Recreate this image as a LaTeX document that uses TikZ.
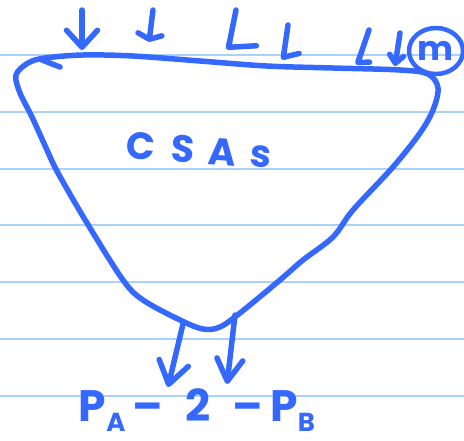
\documentclass[tikz,border=0pt]{standalone}
\usepackage{fontspec}
\setmainfont{Poppins}
\usetikzlibrary{arrows.meta, shapes.geometric}
\definecolor{ink}{RGB}{52,104,255}
\definecolor{ruling}{RGB}{170,210,247}
\newcommand{\lowidx}[1]{\raisebox{-10pt}{\fontsize{26}{26}\selectfont #1}}

\begin{document}
\begin{tikzpicture}[x=1pt, y=-1pt,
                pen/.style={draw=ink, line width=5.5pt, line cap=round, line join=round},
                ruled/.style={draw=ruling, line width=2pt},
                vtip/.style 2 args={pen, -{Straight Barb[round, length=#1, width=#2]}},
                foot/.style 2 args={pen, -{Straight Barb[round, left, length=#1, width=#2]}},
                inktext/.style={text=ink, inner sep=0pt}]
                \useasboundingbox (0,0) rectangle (464,440);
                \foreach \k in {0,...,6}
                    \draw[ruled] (0,55+56.8*\k) -- (464,55+56.8*\k);
                \draw[pen] plot[smooth cycle, tension=0.55] coordinates {
                    (16,75) (28,63) (45,58) (83,55) (133,56) (200,61) (267,66) (333,68)
                    (400,70) (428,74) (438,88) (433,110) (420,133) (393,167) (353,210)
                    (333,237) (303,260) (280,280) (240,313) (220,327) (203,329) (180,320)
                    (143,300) (123,280) (87,223) (58,173) (47,150) (32,117) (20,93)};
                \draw[pen] (42,60) -- (60,67);
                \node[pen, ellipse, minimum width=54pt, minimum height=46pt, inner sep=0pt,
                    line width=4.5pt, text=ink, font=\fontsize{34}{34}\selectfont\bfseries] (m) at (436,51) {m};
                \node[inktext, rotate=-4, font=\fontsize{38}{38}\selectfont\bfseries] (csas) at (199,150)
                    {C\kern16pt S\kern14pt A\kern14pt s};
                \node[inktext, font=\fontsize{44}{44}\selectfont\bfseries] (price) at (197,410)
                    {P\lowidx{A}\,–\enspace 2\enspace –\,P\lowidx{B}};
                \coordinate (t1) at (82,10);  \coordinate (h1) at (82,50);
                \coordinate (t2) at (153,10); \coordinate (h2) at (149,42);
                \coordinate (t3) at (236,10); \coordinate (h3) at (228,50);
                \coordinate (t4) at (288,25); \coordinate (h4) at (283,60);
                \coordinate (t5) at (369,30); \coordinate (h5) at (357,65);
                \coordinate (t6) at (400,33); \coordinate (h6) at (395,66);
                \coordinate (s1) at (183,324); \coordinate (e1) at (168,387);
                \coordinate (s2) at (235,315); \coordinate (e2) at (227,384);
                \draw[vtip={17pt}{31pt}] (t1) -- (h1);
                \draw[vtip={5pt}{24pt}] (t2) -- (h2);
                \draw[foot={7pt}{54pt}] (t3) -- (h3);
                \draw[foot={6pt}{30pt}] (t4) -- (h4);
                \draw[foot={4pt}{22pt}] (t5) -- (h5);
                \draw[vtip={8pt}{14pt}] (t6) -- (h6);
                \draw[vtip={22pt}{30pt}] (s1) -- (e1);
                \draw[vtip={22pt}{26pt}] (s2) -- (e2);
            \end{tikzpicture}
\end{document}
